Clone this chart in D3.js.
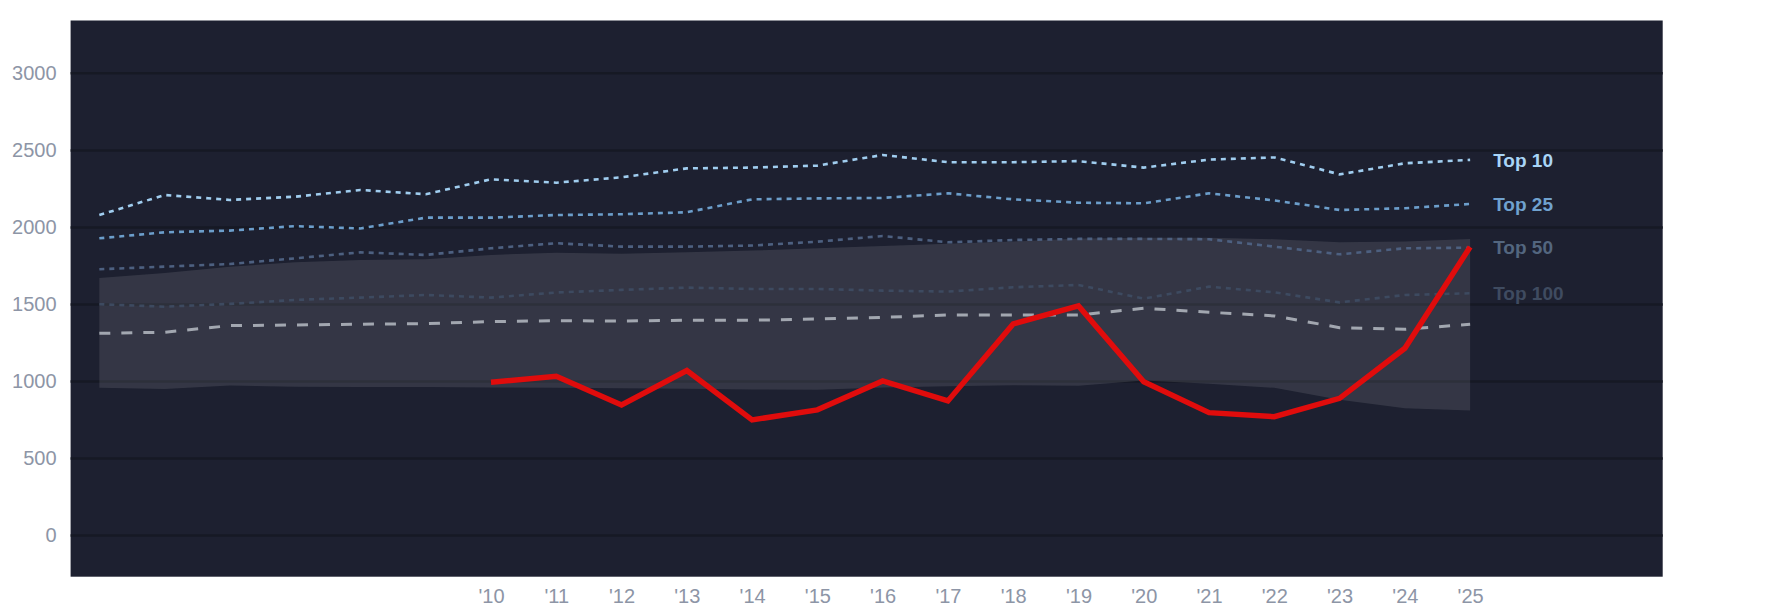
<!DOCTYPE html>
<html>
<head>
<meta charset="utf-8">
<script src="https://cdn.jsdelivr.net/npm/d3@7"></script>
<style>
  body { margin: 0; background: #fff; }
  svg text { font-family: "Liberation Sans", Arial, sans-serif; }
</style>
</head>
<body>
<div id="container"></div>
<script>
// values
const years = [2004, 2005, 2006, 2007, 2008, 2009, 2010, 2011, 2012, 2013, 2014,
               2015, 2016, 2017, 2018, 2019, 2020, 2021, 2022, 2023, 2024, 2025];
const top10  = [2077, 2207, 2175, 2196, 2240, 2212, 2309, 2287, 2322, 2380, 2385,
                2398, 2467, 2420, 2420, 2427, 2385, 2437, 2451, 2341, 2413, 2435];
const top25  = [1926, 1965, 1976, 2005, 1990, 2060, 2060, 2077, 2082, 2095, 2179,
                2185, 2188, 2218, 2179, 2157, 2153, 2218, 2172, 2110, 2121, 2149];
const top50  = [1725, 1742, 1759, 1796, 1835, 1818, 1861, 1894, 1872, 1872, 1879,
                1904, 1941, 1900, 1915, 1922, 1922, 1920, 1872, 1822, 1861, 1865];
const top100 = [1498, 1482, 1500, 1526, 1541, 1558, 1541, 1574, 1591, 1606, 1597,
                1597, 1586, 1580, 1608, 1623, 1534, 1612, 1575, 1510, 1558, 1569];
const median = [1309, 1316, 1359, 1363, 1368, 1372, 1385, 1391, 1389, 1394, 1394,
                1402, 1413, 1428, 1428, 1428, 1472, 1446, 1422, 1346, 1335, 1368];
const bandLow  = [955, 948, 970, 962, 960, 960, 958, 955, 952, 950, 945,
                  942, 958, 966, 972, 968, 1002, 982, 955, 878, 822, 808];
const bandHigh = [1668, 1700, 1742, 1770, 1785, 1790, 1818, 1832, 1825, 1835, 1846,
                  1862, 1876, 1890, 1905, 1925, 1930, 1930, 1920, 1900, 1905, 1922];

const teamYears = [2010, 2011, 2012, 2013, 2014, 2015, 2016, 2017,
                   2018, 2019, 2020, 2021, 2022, 2023, 2024, 2025];
const team = [991, 1030, 844, 1067, 747, 812, 1000, 870,
              1370, 1487, 995, 794, 768, 887, 1212, 1870];

const yTicks = [0, 500, 1000, 1500, 2000, 2500, 3000];
const xTicks = teamYears;
const xTickLabels = teamYears.map(y => "'" + String(y).slice(2));

const tiers = [
  {name: 'Top 100', values: top100, line: '#3d4a60', label: '#3f4b60'},
  {name: 'Top 50',  values: top50,  line: '#4d6080', label: '#53667f'},
  {name: 'Top 25',  values: top25,  line: '#6c9ecb', label: '#70a2cf'},
  {name: 'Top 10',  values: top10,  line: '#a0cdef', label: '#a9d5f7'}
];

//chart properties
const width = 1785;
const height = 614;
const panel = {left: 70.6, right: 1662.7, top: 20.5, bottom: 576.7};

const svg = d3.select('#container')
              .append('svg')
              .attr('width', width)
              .attr('height', height);

const xScale = d3.scaleLinear()
                 .domain([2003.56, 2027.95])
                 .range([panel.left, panel.right]);
const yScale = d3.scaleLinear()
                 .domain([-271, 3340])
                 .range([panel.bottom, panel.top]);

//dark panel
svg.append('rect')
   .attr('x', panel.left)
   .attr('y', panel.top)
   .attr('width', panel.right - panel.left)
   .attr('height', panel.bottom - panel.top)
   .attr('fill', '#1d2030');

//gridlines + y labels through an axis
const yAxis = d3.axisLeft(yScale)
                .tickValues(yTicks)
                .tickSize(-(panel.right - panel.left))
                .tickPadding(14)
                .tickFormat(d => d);
const gy = svg.append('g')
              .attr('transform', `translate(${panel.left},0)`)
              .call(yAxis);
gy.select('.domain').remove();
gy.selectAll('.tick line')
  .attr('stroke', '#161924')
  .attr('stroke-width', 2.5);
gy.selectAll('.tick text')
  .attr('fill', '#8d95a6')
  .style('font-size', '20px');

//x labels
const xAxis = d3.axisBottom(xScale)
                .tickValues(xTicks)
                .tickSize(0)
                .tickPadding(12)
                .tickFormat((d, i) => xTickLabels[i]);
const gx = svg.append('g')
              .attr('transform', `translate(0,${panel.bottom})`)
              .call(xAxis);
gx.select('.domain').remove();
gx.selectAll('.tick text')
  .attr('fill', '#8d95a6')
  .style('font-size', '20px');

//shaded band
const area = d3.area()
               .x((d, i) => xScale(years[i]))
               .y0((d, i) => yScale(bandLow[i]))
               .y1((d, i) => yScale(bandHigh[i]));
svg.append('path')
   .datum(years)
   .attr('d', area)
   .attr('fill', '#ffffff')
   .attr('fill-opacity', 0.1);

const line = d3.line()
               .x((d, i) => xScale(years[i]))
               .y(d => yScale(d));

//tier lines and their labels
tiers.forEach(t => {
  svg.append('path')
     .datum(t.values)
     .attr('d', line)
     .attr('fill', 'none')
     .attr('stroke', t.line)
     .attr('stroke-width', 2.6)
     .attr('stroke-dasharray', '5,5');
  svg.append('text')
     .attr('x', xScale(years[years.length - 1]) + 23)
     .attr('y', yScale(t.values[t.values.length - 1]))
     .attr('dy', '0.35em')
     .attr('fill', t.label)
     .style('font-size', '19px')
     .style('font-weight', 'bold')
     .text(t.name);
});

//median
svg.append('path')
   .datum(median)
   .attr('d', line)
   .attr('fill', 'none')
   .attr('stroke', '#a2a7b0')
   .attr('stroke-width', 3)
   .attr('stroke-dasharray', '11,11');

//team line
const teamLine = d3.line()
                   .x((d, i) => xScale(teamYears[i]))
                   .y(d => yScale(d));
svg.append('path')
   .datum(team)
   .attr('d', teamLine)
   .attr('fill', 'none')
   .attr('stroke', '#e00c0c')
   .attr('stroke-width', 5.5);
</script>
</body>
</html>
